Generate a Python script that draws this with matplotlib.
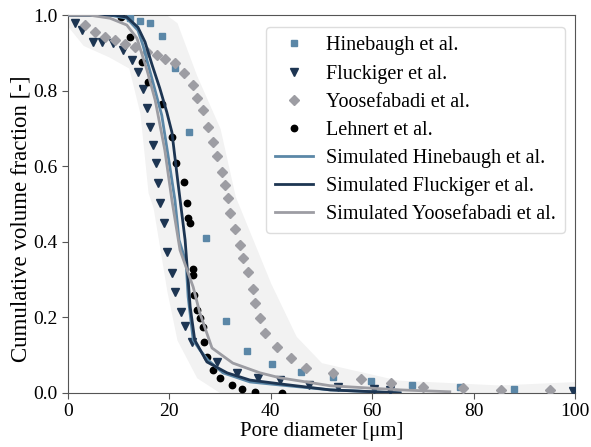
import numpy as np
import matplotlib
matplotlib.use("Agg")
import matplotlib.pyplot as plt

plt.rcParams['font.family'] = ['Liberation Serif', 'DejaVu Serif']
plt.rcParams['mathtext.fontset'] = 'stix'

# experimental data (pore diameter [um], cumulative volume fraction)
hine_d = [12.2, 14.2, 16.2, 18.5, 21.1, 23.9, 27.2, 31.2, 35.3, 40.2, 46.0, 52.3, 59.8, 67.9, 77.3, 88.0]
hine_v = [0.992, 0.984, 0.979, 0.944, 0.86, 0.69, 0.41, 0.19, 0.11, 0.077, 0.056, 0.042, 0.032, 0.021, 0.016, 0.011]

fluck_d = [1.4, 2.8, 4.9, 6.7, 8.9, 10.8, 12.6, 13.8, 14.8, 15.6, 16.2, 16.8, 17.4, 17.8, 18.1, 18.9,
           19.5, 20.5, 21.1, 22.3, 23.1, 24.5, 29.4, 33.3, 37.5, 41.8, 47.5, 53.3, 60.4, 63.5, 99.6]
fluck_v = [0.98, 0.96, 0.93, 0.93, 0.926, 0.907, 0.881, 0.849, 0.804, 0.754, 0.704, 0.656, 0.608, 0.556, 0.503, 0.45,
           0.373, 0.317, 0.267, 0.214, 0.177, 0.135, 0.082, 0.053, 0.04, 0.034, 0.021, 0.016, 0.011, 0.008, 0.005]

yoos_d = [3.4, 5.3, 7.3, 9.3, 11.2, 13.2, 15.6, 17.6, 19.1, 21.1, 22.9, 24.7, 25.4, 26.6, 27.6, 28.6, 29.4, 30.4,
          31.0, 31.6, 32.0, 32.9, 33.9, 34.5, 35.5, 36.5, 36.9, 37.9, 38.9, 41.2, 44.0, 46.9, 52.3, 57.8, 63.7,
          70.0, 77.9, 85.4, 95.1]
yoos_v = [0.974, 0.955, 0.942, 0.934, 0.923, 0.915, 0.902, 0.894, 0.884, 0.873, 0.847, 0.815, 0.78, 0.749, 0.704,
          0.664, 0.627, 0.585, 0.55, 0.516, 0.476, 0.434, 0.392, 0.357, 0.32, 0.275, 0.238, 0.198, 0.159, 0.122,
          0.093, 0.066, 0.053, 0.037, 0.026, 0.016, 0.013, 0.008, 0.008]

lehn_d = [10.5, 12.2, 14.6, 15.8, 18.5, 20.5, 21.3, 22.9, 23.5, 23.7, 24.1, 24.7, 24.7, 24.9, 25.4, 26.0, 26.6,
          26.8, 27.4, 28.6, 30.0, 32.3, 34.3, 36.9, 42.2]
lehn_v = [0.995, 0.942, 0.876, 0.823, 0.765, 0.677, 0.608, 0.558, 0.503, 0.463, 0.45, 0.328, 0.312, 0.259, 0.22,
          0.198, 0.175, 0.135, 0.095, 0.061, 0.04, 0.021, 0.011, 0.003, 0.0]

# simulated curves
sim_hine_d = [0, 8.3, 11.6, 13.8, 14.8, 16.2, 17.6, 18.5, 20.1, 21.1, 21.9, 23.3, 23.7, 24.7, 26.0, 27.6, 30.6,
              35.9, 41.8, 51.7, 65.5]
sim_hine_v = [1.0, 1.0, 0.992, 0.96, 0.92, 0.85, 0.78, 0.735, 0.598, 0.51, 0.405, 0.344, 0.254, 0.14, 0.114,
              0.087, 0.053, 0.029, 0.021, 0.008, 0.0]

sim_fluck_d = [0, 9.3, 11.6, 13.8, 15.2, 16.6, 18.1, 19.5, 20.5, 21.7, 23.1, 24.1, 25.0, 27.4, 31.4, 35.9,
               41.8, 51.7, 65.5]
sim_fluck_v = [1.0, 1.0, 0.995, 0.968, 0.929, 0.868, 0.807, 0.743, 0.69, 0.556, 0.405, 0.228, 0.14, 0.082,
               0.053, 0.034, 0.024, 0.008, 0.0]

sim_yoos_d = [0, 4.3, 8.3, 11.6, 13.6, 15.6, 17.2, 19.1, 20.5, 22.1, 24.7, 26.0, 28.4, 32.5, 37.9, 41.8, 51.7,
              65.5, 75.3]
sim_yoos_v = [1.0, 1.0, 0.992, 0.974, 0.939, 0.854, 0.775, 0.643, 0.51, 0.378, 0.28, 0.212, 0.119, 0.079,
              0.053, 0.04, 0.019, 0.008, 0.003]

# grey band spanning the experimental spread
band_d = [0, 3, 8, 12, 14.2, 15.8, 16.8, 19.5, 21.5, 25.4, 30, 33, 40, 45, 50, 65, 85, 100]
band_lo = [0.97, 0.92, 0.89, 0.86, 0.74, 0.53, 0.49, 0.27, 0.14, 0.04, 0.0, 0.0, 0.0, 0.0, 0.0, 0.0, 0.0, 0.0]
band_hi = [1.0, 1.0, 1.0, 1.0, 1.0, 1.0, 1.0, 1.0, 0.98, 0.84, 0.70, 0.52, 0.29, 0.15, 0.08, 0.034, 0.021, 0.03]

c_hine = '#5b87a7'
c_fluck = '#1d3552'
c_yoos = '#9d9da3'

fig = plt.figure(figsize=(5.91, 4.47), dpi=100)
ax = fig.add_axes([0.115, 0.121, 0.858, 0.845])

ax.fill_between(band_d, band_lo, band_hi, color='#f2f2f2', lw=0, zorder=0)

ax.plot(hine_d, hine_v, 's', color=c_hine, ms=4.8, ls='none', label='Hinebaugh et al.', zorder=3)
ax.plot(fluck_d, fluck_v, 'v', color=c_fluck, ms=5.5, ls='none', label='Fluckiger et al.', zorder=3)
ax.plot(yoos_d, yoos_v, 'D', color=c_yoos, ms=5, ls='none', label='Yoosefabadi et al.', zorder=3)
ax.plot(lehn_d, lehn_v, 'o', color='black', ms=4.6, ls='none', label='Lehnert et al.', zorder=3)
ax.plot(sim_hine_d, sim_hine_v, '-', color=c_hine, lw=2, label='Simulated Hinebaugh et al.', zorder=4)
ax.plot(sim_fluck_d, sim_fluck_v, '-', color=c_fluck, lw=2, label='Simulated Fluckiger et al.', zorder=4)
ax.plot(sim_yoos_d, sim_yoos_v, '-', color=c_yoos, lw=2, label='Simulated Yoosefabadi et al.', zorder=4)

ax.set_xlim(0, 100)
ax.set_ylim(0, 1.0)
ax.set_xticks([0, 20, 40, 60, 80, 100])
ax.set_yticks([0.0, 0.2, 0.4, 0.6, 0.8, 1.0])
ax.set_yticklabels(['0.0', '0.2', '0.4', '0.6', '0.8', '1.0'])
ax.tick_params(labelsize=14, color='#555555', length=4)
for s in ax.spines.values():
    s.set_color('#555555')

ax.set_xlabel('Pore diameter [\u03bcm]', fontsize=15, labelpad=1)
ax.set_ylabel('Cumulative volume fraction [-]', fontsize=16.5)
ax.yaxis.set_label_coords(-0.072, 0.46)

leg = ax.legend(loc='upper right', fontsize=14.5, frameon=True, fancybox=True,
                borderpad=0.45, labelspacing=0.45, handlelength=1.9, handletextpad=0.65,
                borderaxespad=0, bbox_to_anchor=(0.98, 0.968))
leg.get_frame().set_edgecolor('#dddddd')
leg.get_frame().set_alpha(1)

fig.savefig('out.png', dpi=100)
